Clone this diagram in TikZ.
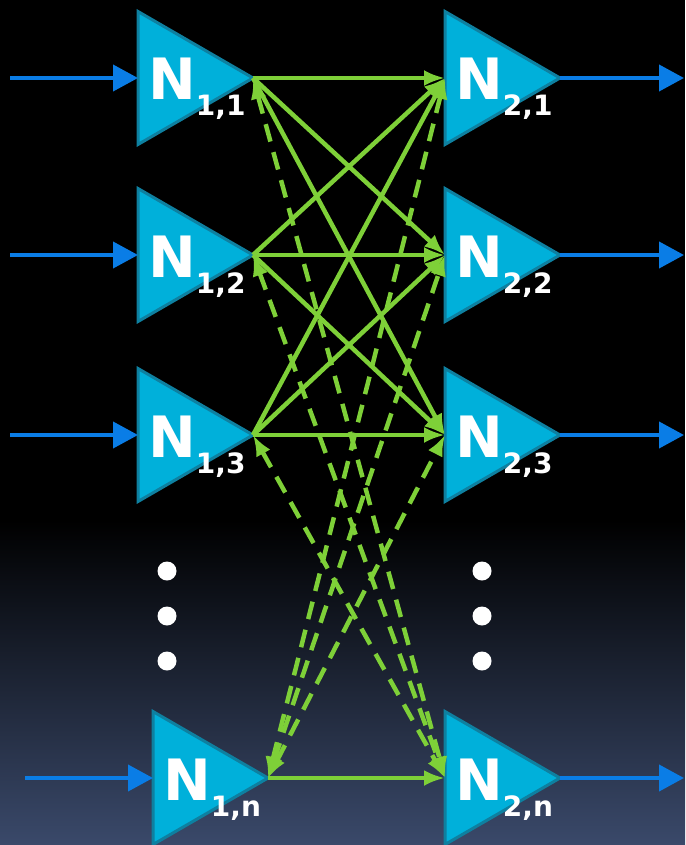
\documentclass[tikz,border=0pt]{standalone}
\usepackage{fontspec}
\usetikzlibrary{positioning,shapes.geometric,arrows.meta}
\newfontfamily\labfont{DejaVu Sans}
\definecolor{ampfill}{RGB}{0,176,218}
\definecolor{ampedge}{RGB}{14,128,160}
\definecolor{wireblue}{RGB}{10,125,230}
\definecolor{linkgreen}{RGB}{126,208,56}
\definecolor{deep}{RGB}{58,73,106}
\newcommand\amplab[2]{N\raisebox{-16pt}{\fontsize{28}{28}\selectfont#1,#2}}

\begin{document}
\begin{tikzpicture}[x=1pt,y=-1pt,
    amp/.style={isosceles triangle,isosceles triangle stretches,
      minimum width=133pt,minimum height=115pt,inner sep=0pt,outer sep=0pt,
      fill=ampfill,draw=ampedge,line width=3pt,anchor=west},
    lbl/.style={text=white,font=\labfont\bfseries\fontsize{57}{57}\selectfont,
      inner sep=0pt,anchor=base west},
    wire/.style={draw=wireblue,line width=4pt,-{Triangle[length=25pt,width=26pt]}},
    link/.style={draw=linkgreen,line width=4.5pt,-{Latex[length=21pt,width=16pt]}},
    back/.style={link,dash pattern=on 18pt off 11pt,
      {Latex[length=21pt,width=16pt]}-{Latex[length=21pt,width=16pt]}},
    dot/.style={circle,fill=white,minimum size=19pt,inner sep=0pt}]
    \useasboundingbox (0,0) rectangle (685,845);
    % background
    \fill[black] (0,0) rectangle (685,845);
    \shade[top color=black,bottom color=deep] (0,520) rectangle (685,845);

    % first and second layer
    \foreach \r/\y in {1/78,2/255,3/435} {
        \node[amp] (a1\r) at (138,\y) {};
        \node[lbl] (t1\r) at ([xshift=10pt,yshift=-22pt]a1\r.west) {\amplab{1}{\r}};
        \node[amp] (a2\r) at (445,\y) {};
        \node[lbl] (t2\r) at ([xshift=10pt,yshift=-22pt]a2\r.west) {\amplab{2}{\r}};
        \coordinate (i\r) at (10,\y);
        \coordinate (o\r) at (684,\y);
        \draw[wire] (i\r) -- (a1\r.west);
        \draw[wire] (a2\r.east) -- (o\r);
    }
    \node[amp] (a1n) at (153,778) {};
    \node[lbl] (t1n) at ([xshift=10pt,yshift=-22pt]a1n.west) {\amplab{1}{n}};
    \node[amp] (a2n) at (445,778) {};
    \node[lbl] (t2n) at ([xshift=10pt,yshift=-22pt]a2n.west) {\amplab{2}{n}};
    \coordinate (in) at (25,778);
    \coordinate (on) at (684,778);
    \draw[wire] (in) -- (a1n.west);
    \draw[wire] (a2n.east) -- (on);

    % ellipsis
    \foreach \k/\y in {1/571,2/616,3/661} {
        \node[dot] (l\k) at (167,\y) {};
        \node[dot] (r\k) at (482,\y) {};
    }

    % connections
    \foreach \i in {1,2,3} {
        \foreach \j in {1,2,3}
            \draw[link] (a1\i.east) -- (a2\j.west);
        \draw[back] (a1\i.east) -- (a2n.west);
        \draw[back] (a1n.east) -- (a2\i.west);
    }
    \draw[link] (a1n.east) -- (a2n.west);
\end{tikzpicture}
\end{document}
